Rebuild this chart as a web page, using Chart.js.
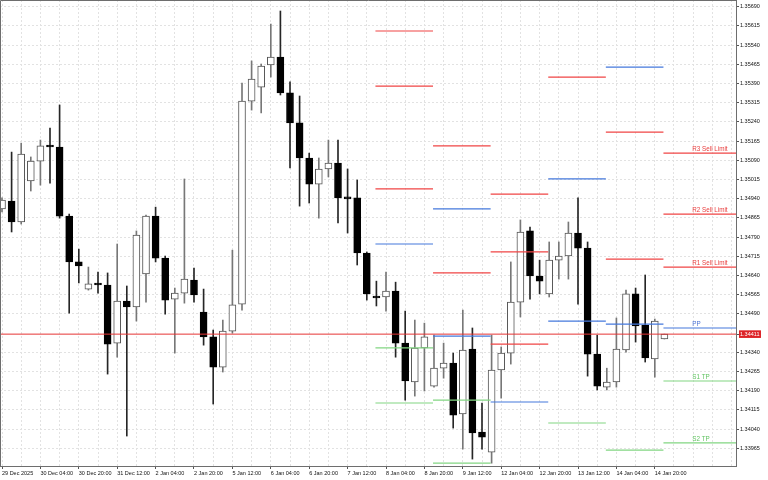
<!DOCTYPE html>
<html><head><meta charset="utf-8">
<script src="https://cdn.jsdelivr.net/npm/chart.js@4.4.1/dist/chart.umd.min.js"></script>
<style>html,body{margin:0;padding:0;background:#fff}#wrap{width:768px;height:480px}</style>
</head><body><div id="wrap"><canvas id="c" width="768" height="480"></canvas></div>
<script>
// ---- data ----
const open = [1.34900,1.34931,1.34849,1.35009,1.35087,1.35146,1.35142,1.34872,1.34693,1.34587,
1.34607,1.34603,1.34376,1.34540,1.34517,1.34646,1.34872,1.34708,1.34548,1.34571,
1.34622,1.34497,1.34400,1.34282,1.34423,1.34528,1.35321,1.35376,1.35462,1.35493,
1.35353,1.35236,1.35099,1.34997,1.35056,1.35079,1.34943,1.34943,1.34728,1.34556,
1.34556,1.34579,1.34376,1.34224,1.34357,1.34208,1.34278,1.34298,1.34099,1.34353,
1.34028,1.33950,1.34271,1.34337,1.34536,1.34814,1.34638,1.34568,1.34700,1.34716,
1.34806,1.34747,1.34333,1.34204,1.34224,1.34349,1.34568,1.34446,1.34314,1.34392];
const high = [1.34943,1.35122,1.35157,1.35103,1.35169,1.35216,1.35306,1.34880,1.34743,1.34673,
1.34653,1.34650,1.34763,1.34599,1.34814,1.34876,1.34907,1.34716,1.34591,1.35017,
1.34669,1.34587,1.34427,1.34466,1.34739,1.35392,1.35478,1.35466,1.35622,1.35673,
1.35396,1.35341,1.35118,1.35099,1.35169,1.35169,1.35056,1.35013,1.34732,1.34618,
1.34653,1.34614,1.34501,1.34466,1.34454,1.34407,1.34376,1.34337,1.34505,1.34435,
1.34142,1.34407,1.34361,1.34693,1.34857,1.34829,1.34700,1.34771,1.34771,1.34849,
1.34943,1.34771,1.34407,1.34278,1.34474,1.34583,1.34591,1.34642,1.34470,1.34411];
const low = [1.34888,1.34810,1.34841,1.34970,1.34993,1.35001,1.34864,1.34493,1.34611,1.34583,
1.34571,1.34255,1.34321,1.34013,1.34462,1.34536,1.34693,1.34489,1.34337,1.34532,
1.34536,1.34368,1.34138,1.34263,1.34415,1.34505,1.35286,1.35275,1.35415,1.35345,
1.35060,1.34911,1.34923,1.34864,1.35025,1.34845,1.34806,1.34681,1.34544,1.34521,
1.34501,1.34321,1.34153,1.34169,1.34189,1.34204,1.34239,1.34044,1.33962,1.33923,
1.33962,1.33907,1.34161,1.34294,1.34478,1.34548,1.34568,1.34556,1.34626,1.34626,
1.34528,1.34247,1.34193,1.34193,1.34204,1.34341,1.34380,1.34302,1.34243,1.34392];
const close = [1.34935,1.34849,1.35114,1.35087,1.35146,1.35142,1.34872,1.34693,1.34677,1.34607,
1.34603,1.34372,1.34540,1.34517,1.34798,1.34872,1.34708,1.34544,1.34571,1.34626,
1.34564,1.34400,1.34282,1.34423,1.34525,1.35321,1.35407,1.35458,1.35493,1.35353,
1.35236,1.35099,1.34997,1.35056,1.35079,1.34943,1.34939,1.34728,1.34568,1.34552,
1.34579,1.34376,1.34228,1.34357,1.34400,1.34278,1.34298,1.34095,1.34349,1.34025,
1.34009,1.34271,1.34337,1.34536,1.34810,1.34638,1.34618,1.34700,1.34716,1.34806,
1.34747,1.34333,1.34208,1.34224,1.34353,1.34568,1.34443,1.34318,1.34462,1.34411];

const xTickLabels = ['29 Dec 2025','30 Dec 04:00','30 Dec 20:00','31 Dec 12:00','2 Jan 04:00','2 Jan 20:00',
'5 Jan 12:00','6 Jan 04:00','6 Jan 20:00','7 Jan 12:00','8 Jan 04:00','8 Jan 20:00','9 Jan 12:00',
'12 Jan 04:00','12 Jan 20:00','13 Jan 12:00','14 Jan 04:00','14 Jan 20:00'];
const yTicks = [1.33965,1.34040,1.34115,1.34190,1.34265,1.34340,1.34415,1.34490,1.34565,1.34640,
1.34715,1.34790,1.34865,1.34940,1.35015,1.35090,1.35165,1.35240,1.35315,1.35390,1.35465,1.35540,1.35615,1.35690];
const currentPrice = 1.34411;

// daily pivot levels (one entry per day)
const levelDays  = ['8 Jan','9 Jan','12 Jan','13 Jan','14 Jan','15 Jan'];
const dayStartBar = [39,45,51,57,63,69];
const r3 = [1.35595,1.35146,1.34958,null,   1.35454,1.35118];
const r2 = [1.35380,1.34900,1.34732,1.35415,1.35200,1.34880];
const r1 = [1.34978,1.34650,1.34372,1.35017,1.34704,1.34673];
const pp = [1.34763,1.34403,1.34146,1.34462,1.34450,1.34435];
const s1 = [1.34357,1.34153,null,   1.34064,1.33958,1.34228];
const s2 = [1.34142,1.33907,null,   null,   null,   1.33986];
const levelNames = {r3:'R3 Sell Limit', r2:'R2 Sell Limit', r1:'R1 Sell Limit', pp:'PP', s1:'S1 TP', s2:'S2 TP'};

// ---- styles ----
const COL = {red:'#f04545', blue:'#4578dc', green:'#82d682', gray:'#9aa89a'};
const TXT = {red:'#e83c3c', blue:'#4a72d4', green:'#62c462', gray:'#8a988a'};
const levelColor = {
  r3:['red','red','red',null,'blue','red'],
  r2:['red','blue','red','red','red','red'],
  r1:['red','red','red','blue','red','red'],
  pp:['blue','blue','blue','blue','blue','blue'],
  s1:['green','green',null,'green','green','green'],
  s2:['green','green',null,null,null,'green']
};
const FONT = 'Liberation Sans, Arial, sans-serif';
const barW = 9.6, leftPad = 2, plotW = 736;
const xMin = -leftPad / barW, xMax = xMin + plotW / barW;

const idx = open.map((_, i) => i);
const up = i => close[i] >= open[i];

const datasets = [];
datasets.push({
  type:'bar', label:'wick', order:4, grouped:false, barThickness:1,
  data: idx.map(i => ({x:i, y:[low[i], high[i]]})),
  backgroundColor: idx.map(i => up(i) ? '#777777' : '#262626')
});
datasets.push({
  type:'bar', label:'body', order:3, grouped:false, barThickness:7, minBarLength:2,
  data: idx.map(i => ({x:i, y:[open[i], close[i]]})),
  backgroundColor: idx.map(i => up(i) ? '#ffffff' : '#000000'),
  borderColor: idx.map(i => up(i) ? '#555555' : '#000000'),
  borderWidth:1, borderSkipped:false
});
const levels = {r3, r2, r1, pp, s1, s2};
Object.keys(levels).forEach(k => {
  levels[k].forEach((v, d) => {
    if (v == null) return;
    const x0 = dayStartBar[d] - 0.1;
    const x1 = d + 1 < dayStartBar.length ? dayStartBar[d + 1] - 0.1 : xMax;
    datasets.push({type:'line', label:k + ' ' + levelDays[d], order:1,
      data:[{x:x0, y:v}, {x:x1, y:v}], borderColor: COL[levelColor[k][d]],
      borderWidth:1.2, pointRadius:0, fill:false});
  });
});
datasets.push({type:'line', label:'price', order:2,
  data:[{x:xMin, y:currentPrice}, {x:xMax, y:currentPrice}],
  borderColor:'#e63333', borderWidth:1, pointRadius:0, fill:false});

const framePlugin = {
  id:'frame',
  afterDraw(chart) {
    const {ctx, chartArea:a} = chart;
    ctx.save();
    ctx.strokeStyle = '#6e6e6e'; ctx.lineWidth = 1;
    ctx.beginPath();
    ctx.moveTo(0.5, a.bottom); ctx.lineTo(0.5, 0.5); ctx.lineTo(a.right, 0.5);
    ctx.stroke();
    ctx.restore();
  }
};
const levelLabelPlugin = {
  id:'levelLabels',
  afterDatasetsDraw(chart) {
    const {ctx, scales:{x, y}} = chart;
    const d = dayStartBar.length - 1;
    ctx.save();
    ctx.font = '6.3px ' + FONT;
    ctx.textAlign = 'left'; ctx.textBaseline = 'alphabetic';
    Object.keys(levels).forEach(k => {
      const v = levels[k][d];
      if (v == null) return;
      ctx.fillStyle = TXT[levelColor[k][d]];
      ctx.fillText(levelNames[k], x.getPixelForValue(71.9), y.getPixelForValue(v) - 2);
    });
    ctx.restore();
  }
};

new Chart(document.getElementById('c'), {
  type:'bar',
  data:{datasets},
  options:{
    responsive:false, animation:false, devicePixelRatio:1,
    layout:{padding:0},
    plugins:{legend:{display:false}, tooltip:{enabled:false}},
    scales:{
      x:{
        type:'linear', min:xMin, max:xMax, offset:false,
        afterBuildTicks: s => { s.ticks = []; for (let v = 0; v <= Math.floor(xMax); v += 2) s.ticks.push({value:v}); },
        afterFit: s => { s.height = 14; s.paddingLeft = 0; s.paddingRight = 0; },
        ticks:{autoSkip:false, maxRotation:0, minRotation:0, align:'start', padding:1,
          font:{family:FONT, size:5.5}, color:'#111',
          callback: v => (v % 4 === 0 && v / 4 < xTickLabels.length) ? xTickLabels[v / 4] : ''},
        grid:{color:'#e2e2e2', offset:false, tickLength:3,
          tickColor: c => (c.tick && c.tick.value % 4 === 0 && c.tick.value / 4 < xTickLabels.length) ? '#555' : 'rgba(0,0,0,0)'},
        border:{color:'#6e6e6e', dash:[2,2]}
      },
      y:{
        type:'linear', position:'right', min:1.33896, max:1.35716,
        afterBuildTicks: s => { s.ticks = yTicks.filter(v => Math.abs(v - currentPrice) > 0.0001).concat([currentPrice]).map(v => ({value:v})); },
        afterFit: s => { s.width = 32; s.paddingTop = 0; s.paddingBottom = 0; },
        ticks:{padding:1, font:{family:FONT, size:5.5},
          color: c => c.tick && c.tick.value === currentPrice ? '#ffffff' : '#111',
          showLabelBackdrop: c => !!(c.tick && c.tick.value === currentPrice),
          backdropColor:'#dd2226', backdropPadding:{top:0.5, bottom:0.5, left:1, right:1.5},
          callback: v => v.toFixed(5)},
        grid:{color: c => c.tick && c.tick.value === currentPrice ? 'rgba(0,0,0,0)' : '#e2e2e2', tickLength:3, tickColor:'#555'},
        border:{color:'#6e6e6e', dash:[2,2]}
      }
    }
  },
  plugins:[framePlugin, levelLabelPlugin]
});
</script></body></html>
